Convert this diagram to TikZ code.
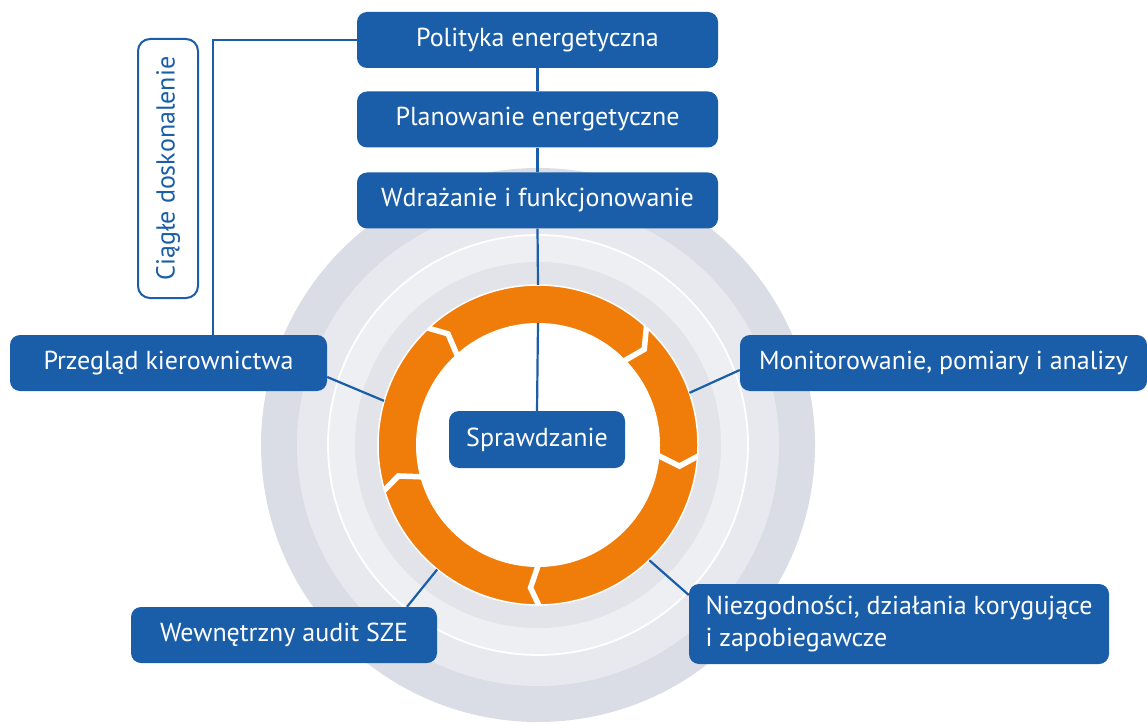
\documentclass[tikz,border=0pt]{standalone}
\usepackage{fontspec}
\setmainfont{PT Sans}
\usetikzlibrary{calc}
\definecolor{boxblue}{HTML}{1A5EA9}
\definecolor{ringorange}{HTML}{F07D0A}
\definecolor{grayA}{HTML}{DBDDE6}
\definecolor{grayB}{HTML}{E8E9EF}
\definecolor{grayC}{HTML}{EEEFF3}
\definecolor{grayD}{HTML}{E3E4EA}
\tikzset{
	stepbox/.style = {shape=rectangle, rounded corners=10pt,
		fill=boxblue, text=white, anchor=center,
		font=\fontsize{26}{31.7}\selectfont,
		inner sep=0pt, minimum height=56pt},
	loopbox/.style = {stepbox, fill=none, draw=boxblue, line width=2pt,
		rounded corners=12pt, text=boxblue},
	link/.style    = {draw=boxblue, line width=2.2pt},
	gapline/.style = {draw=white, line width=5.5pt, line join=miter}
}

\begin{document}
\begin{tikzpicture}[x=1pt, y=1pt]
	\useasboundingbox (0,0) rectangle (1147,724);
	\coordinate (c) at (538,279);
	% grey rings
	\fill[grayA] (c) circle (277pt);
	\fill[grayB] (c) circle (241pt);
	\fill[grayC] (c) circle (210pt);
	\draw[white, line width=1.8pt] (c) circle (210pt);
	\fill[grayD] (c) circle (183pt);
	% orange cycle
	\begin{scope}
		\clip (c) circle (160pt);
		\fill[ringorange] (c) circle (160pt);
		\foreach \o/\v/\i in {136/129/135, 51/42/46.5, -1/-8.5/-1.5, -87.5/-93/-87, 199/192.5/198}
			\draw[gapline] ($(c)+(\o:175pt)$) -- ($(c)+(\v:143pt)$) -- ($(c)+(\i:105pt)$);
	\end{scope}
	\fill[white] (c) circle (122pt);
	\draw[white, line width=1.5pt] (c) circle (160pt);
	\node[circle, minimum size=320pt, inner sep=0pt] (ring) at (c) {};
	\node[circle, minimum size=244pt, inner sep=0pt] (hub) at (c) {};
	
	\node [stepbox, minimum width=361pt] at (537.5,684) (polityka) {Polityka energetyczna};
	\node [stepbox, minimum width=361pt] at (537.5,604.5) (planowanie) {Planowanie energetyczne};
	\node [stepbox, minimum width=361pt] at (537.5,523.5) (wdrazanie) {Wdrażanie i funkcjonowanie};
	\node [stepbox, minimum width=176pt, minimum height=57pt] at (537,284.5) (sprawdzanie) {Sprawdzanie};
	\node [stepbox, minimum width=317pt] at (168.5,361) (przeglad) {Przegląd kierownictwa};
	\node [stepbox, minimum width=407pt] at (943.5,361) (monitor) {Monitorowanie, pomiary i analizy};
	\node [stepbox, minimum width=306pt] at (284,89) (audit) {Wewnętrzny audit SZE};
	\node [stepbox, minimum width=420pt, minimum height=80pt, align=left] at (899,100) (niezg) {Niezgodności, działania korygujące\\i zapobiegawcze};
	\node [loopbox, rotate=90, minimum width=259pt, minimum height=60pt] at (168,555.5) (ciagle) {Ciągłe doskonalenie};
	
	\draw[link] (polityka.south) -- (planowanie.north);
	\draw[link] (planowanie.south) -- (wdrazanie.north);
	\draw[link] (wdrazanie.south) -- (ring.90);
	\draw[link] (hub.90) -- (sprawdzanie.north);
	\draw[link] (polityka.west) -| ([xshift=44.5pt]przeglad.north);
	\draw[link] ([yshift=-14pt]przeglad.east) -- (ring.164);
	\draw[link] ([yshift=-7pt]monitor.west) -- (ring.19.5);
	\draw[link] ([xshift=123pt]audit.north) -- (ring.-129);
	\draw[link] ([yshift=29pt]niezg.west) -- (ring.-46);
\end{tikzpicture}
\end{document}
